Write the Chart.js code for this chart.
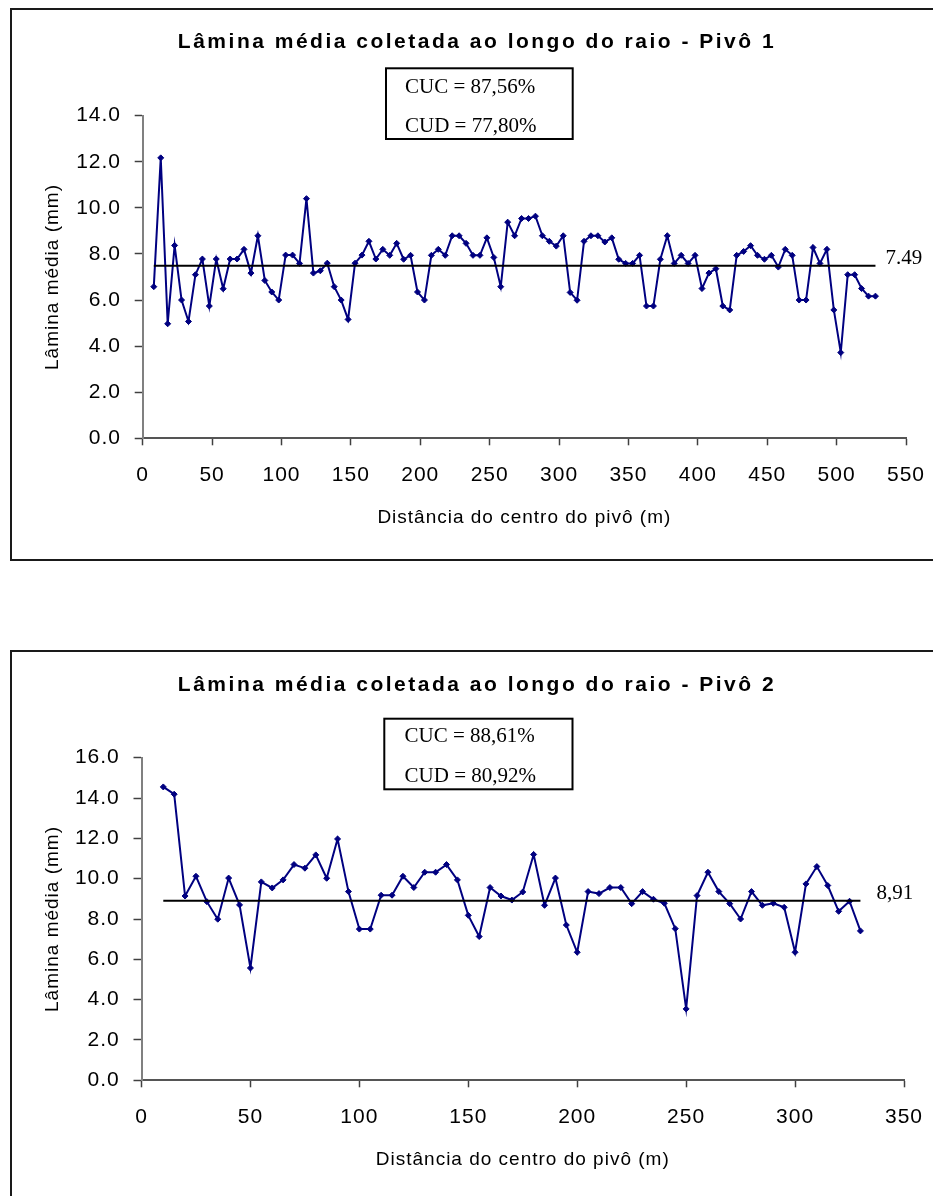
<!DOCTYPE html>
<html lang="pt">
<head>
<meta charset="utf-8">
<title>Lâmina média coletada ao longo do raio</title>
<script src="https://cdn.jsdelivr.net/npm/chart.js@4"></script>
<style>
  html, body { margin: 0; padding: 0; background: #fff; overflow: hidden; width: 933px; height: 1196px; }
  .frame { position: absolute; left: 10px; width: 940px; height: 549px; border: 2px solid #1a1a1a; border-right: none; }
  #f1 { top: 8px; }
  #f2 { top: 650px; }
  canvas { display: block; }
</style>
</head>
<body>
<div class="frame" id="f1"><canvas id="c1" width="930" height="549"></canvas></div>
<div class="frame" id="f2"><canvas id="c2" width="930" height="549"></canvas></div>

<script>
// ---- Pivô 1 ----
const title1 = 'Lâmina média coletada ao longo do raio - Pivô 1';
const dist1 = [
  8, 13, 18, 23, 28, 33, 38, 43, 48, 53,
  58, 63, 68, 73, 78, 83, 88, 93, 98, 103,
  108, 113, 118, 123, 128, 133, 138, 143, 148, 153,
  158, 163, 168, 173, 178, 183, 188, 193, 198, 203,
  208, 213, 218, 223, 228, 233, 238, 243, 248, 253,
  258, 263, 268, 273, 278, 283, 288, 293, 298, 303,
  308, 313, 318, 323, 328, 333, 338, 343, 348, 353,
  358, 363, 368, 373, 378, 383, 388, 393, 398, 403,
  408, 413, 418, 423, 428, 433, 438, 443, 448, 453,
  458, 463, 468, 473, 478, 483, 488, 493, 498, 503,
  508, 513, 518, 523, 528
];
const lamina1 = [
  6.58, 12.17, 4.97, 8.37, 6.00, 5.07, 7.10, 7.78, 5.74, 7.78,
  6.49, 7.78, 7.78, 8.20, 7.17, 8.79, 6.85, 6.35, 6.00, 7.95,
  7.95, 7.59, 10.40, 7.17, 7.27, 7.60, 6.58, 6.00, 5.16, 7.60,
  7.95, 8.55, 7.78, 8.20, 7.94, 8.46, 7.77, 7.94, 6.35, 6.00,
  7.94, 8.20, 7.94, 8.79, 8.79, 8.46, 7.94, 7.94, 8.70, 7.85,
  6.58, 9.38, 8.79, 9.54, 9.54, 9.64, 8.79, 8.55, 8.34, 8.79,
  6.33, 5.99, 8.55, 8.79, 8.79, 8.52, 8.70, 7.77, 7.59, 7.59,
  7.94, 5.74, 5.74, 7.77, 8.79, 7.59, 7.94, 7.59, 7.94, 6.50,
  7.17, 7.36, 5.74, 5.57, 7.94, 8.11, 8.36, 7.94, 7.77, 7.94,
  7.43, 8.20, 7.94, 6.00, 6.00, 8.28, 7.59, 8.20, 5.57, 3.72,
  7.10, 7.10, 6.50, 6.17, 6.17
];
const media1 = 7.49;
const mediaSep1 = '.';
const stats1 = ['CUC = 87,56%', 'CUD = 77,80%'];
const xTicks1 = [0, 50, 100, 150, 200, 250, 300, 350, 400, 450, 500, 550];
const yTicks1 = [0, 2, 4, 6, 8, 10, 12, 14];

// ---- Pivô 2 ----
const title2 = 'Lâmina média coletada ao longo do raio - Pivô 2';
const dist2 = [
  10, 15, 20, 25, 30, 35, 40, 45, 50, 55,
  60, 65, 70, 75, 80, 85, 90, 95, 100, 105,
  110, 115, 120, 125, 130, 135, 140, 145, 150, 155,
  160, 165, 170, 175, 180, 185, 190, 195, 200, 205,
  210, 215, 220, 225, 230, 235, 240, 245, 250, 255,
  260, 265, 270, 275, 280, 285, 290, 295, 300, 305,
  310, 315, 320, 325, 330
];
const lamina2 = [
  14.55, 14.19, 9.14, 10.12, 8.86, 7.99, 10.03, 8.70, 5.57, 9.84,
  9.54, 9.94, 10.70, 10.52, 11.18, 10.02, 11.97, 9.36, 7.50, 7.50,
  9.18, 9.18, 10.12, 9.56, 10.32, 10.32, 10.70, 9.94, 8.18, 7.13,
  9.56, 9.14, 8.94, 9.34, 11.20, 8.68, 10.03, 7.70, 6.35, 9.36,
  9.26, 9.56, 9.56, 8.76, 9.36, 8.98, 8.78, 7.52, 3.54, 9.16,
  10.32, 9.36, 8.76, 8.00, 9.36, 8.68, 8.78, 8.58, 6.35, 9.74,
  10.60, 9.66, 8.38, 8.88, 7.41
];
const media2 = 8.91;
const mediaSep2 = ',';
const stats2 = ['CUC = 88,61%', 'CUD = 80,92%'];
const xTicks2 = [0, 50, 100, 150, 200, 250, 300, 350];
const yTicks2 = [0, 2, 4, 6, 8, 10, 12, 14, 16];

const SANS = "'Liberation Sans', Arial, sans-serif";
const SERIF = "'Liberation Serif', 'Times New Roman', serif";

// Spaced lettering for the axis text, wider spacing for the chart title.
const spacedText = {
  id: 'spacedText',
  beforeDraw(chart) {
    const tb = chart.titleBlock;
    if (tb && !tb._spaced) {
      const orig = tb.draw;
      tb.draw = function (area) {
        const c = this.ctx;
        c.save();
        c.letterSpacing = '2.5px';
        orig.call(this, area);
        c.restore();
      };
      tb._spaced = true;
    }
    chart.ctx.letterSpacing = '1px';
  }
};

// Boxed CUC / CUD text and the value label at the end of the mean line.
const statsBox = {
  id: 'statsBox',
  afterDraw(chart, args, o) {
    const ctx = chart.ctx;
    ctx.save();
    ctx.letterSpacing = '0px';
    ctx.lineWidth = 2;
    ctx.strokeStyle = '#000';
    ctx.strokeRect(o.boxLeft, o.boxTop, o.boxWidth, o.boxHeight);
    ctx.font = '21px ' + SERIF;
    ctx.fillStyle = '#000';
    ctx.textAlign = 'left';
    ctx.textBaseline = 'middle';
    o.lines.forEach((t, i) => ctx.fillText(t, o.textLeft, o.lineY[i]));
    const xs = chart.scales.x, ys = chart.scales.y;
    const label = o.mean.toFixed(2).replace('.', o.sep);
    ctx.fillText(label, xs.getPixelForValue(o.meanEnd) + o.labelGap, ys.getPixelForValue(o.mean) - 7);
    ctx.restore();
  }
};

function buildChart(id, p) {
  const points = p.dist.map((d, i) => ({ x: d, y: p.values[i] }));
  const first = p.dist[0], last = p.dist[p.dist.length - 1];
  return new Chart(document.getElementById(id), {
    type: 'line',
    data: {
      datasets: [
        {
          label: 'Média',
          data: [{ x: first, y: p.mean }, { x: last, y: p.mean }],
          borderColor: '#000',
          borderWidth: 2,
          pointRadius: 0,
          order: 0
        },
        {
          label: 'Lâmina média',
          data: points,
          borderColor: '#000080',
          backgroundColor: '#000080',
          borderWidth: 2,
          pointStyle: 'rectRot',
          pointRadius: 3,
          pointBorderWidth: 1,
          pointBackgroundColor: '#000080',
          pointBorderColor: '#000080',
          tension: 0,
          order: 1
        }
      ]
    },
    options: {
      responsive: false,
      animation: false,
      events: [],
      layout: { padding: 0 },
      plugins: {
        legend: { display: false },
        tooltip: { enabled: false },
        title: {
          display: true,
          text: p.title,
          color: '#000',
          font: { family: SANS, size: 21, weight: 'bold', lineHeight: 1.2 },
          padding: { top: p.titleTop, bottom: p.titleBottom }
        },
        statsBox: p.box
      },
      scales: {
        x: {
          type: 'linear',
          min: p.xTicks[0],
          max: p.xTicks[p.xTicks.length - 1],
          afterBuildTicks: s => { s.ticks = p.xTicks.map(v => ({ value: v })); },
          afterFit: s => { s.height = 120.7; s.paddingRight = p.padRight; },
          grid: { drawOnChartArea: false, drawTicks: true, tickLength: 7, tickColor: '#404040', tickWidth: 1.5 },
          border: { display: true, color: '#555', width: 2 },
          ticks: {
            color: '#000',
            font: { family: SANS, size: 21 },
            padding: 17,
            maxRotation: 0,
            autoSkip: false,
            callback: v => String(v)
          },
          title: {
            display: true,
            text: 'Distância do centro do pivô (m)',
            color: '#000',
            font: { family: SANS, size: 19, lineHeight: 1.2 },
            padding: { top: 0, bottom: 29.6 }
          }
        },
        y: {
          min: p.yTicks[0],
          max: p.yTicks[p.yTicks.length - 1],
          afterBuildTicks: s => { s.ticks = p.yTicks.map(v => ({ value: v })); },
          afterFit: s => { s.width = p.plotLeft; },
          grid: { drawOnChartArea: false, drawTicks: true, tickLength: 8, tickColor: '#404040', tickWidth: 1.5 },
          border: { display: true, color: '#808080', width: 2 },
          ticks: {
            color: '#000',
            font: { family: SANS, size: 21 },
            padding: 13.7,
            callback: v => Number(v).toFixed(1)
          },
          title: {
            display: true,
            text: 'Lâmina média (mm)',
            color: '#000',
            font: { family: SANS, size: 19, lineHeight: 1.2 },
            padding: { top: 29.6, bottom: 0 }
          }
        }
      }
    },
    plugins: [spacedText, statsBox]
  });
}

buildChart('c1', {
  title: title1, dist: dist1, values: lamina1, mean: media1,
  xTicks: xTicks1, yTicks: yTicks1,
  plotLeft: 130.7, padRight: 36, titleTop: 19.4, titleBottom: 61.1,
  box: {
    boxLeft: 374, boxTop: 58.3, boxWidth: 186.7, boxHeight: 70.7,
    textLeft: 393, lineY: [77.3, 116.7], lines: stats1,
    mean: media1, sep: mediaSep1, meanEnd: dist1[dist1.length - 1], labelGap: 10
  }
});

buildChart('c2', {
  title: title2, dist: dist2, values: lamina2, mean: media2,
  xTicks: xTicks2, yTicks: yTicks2,
  plotLeft: 129.5, padRight: 38, titleTop: 20.4, titleBottom: 60.1,
  box: {
    boxLeft: 372.3, boxTop: 66.7, boxWidth: 188.2, boxHeight: 70.6,
    textLeft: 392.6, lineY: [84.7, 124], lines: stats2,
    mean: media2, sep: mediaSep2, meanEnd: dist2[dist2.length - 1], labelGap: 16
  }
});
</script>
</body>
</html>
